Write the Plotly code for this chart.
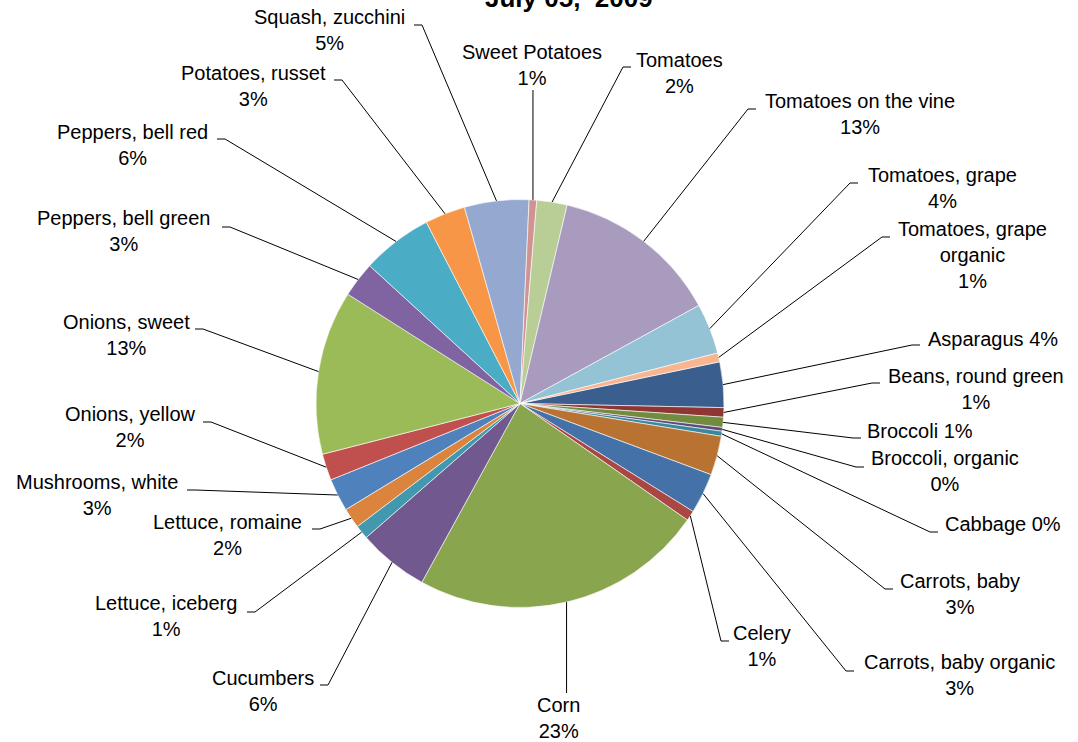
import math
import plotly.graph_objects as go

# ---------------- data ----------------
categories = [
    "Asparagus", "Beans, round green", "Broccoli", "Broccoli, organic", "Cabbage",
    "Carrots, baby", "Carrots, baby organic", "Celery", "Corn", "Cucumbers",
    "Lettuce, iceberg", "Lettuce, romaine", "Mushrooms, white", "Onions, yellow",
    "Onions, sweet", "Peppers, bell green", "Peppers, bell red", "Potatoes, russet",
    "Squash, zucchini", "Sweet Potatoes", "Tomatoes", "Tomatoes on the vine",
    "Tomatoes, grape", "Tomatoes, grape organic",
]
shares = [3.6, 0.75, 0.8, 0.3, 0.4, 3.1, 3.2, 0.8, 23.3, 5.6, 1.1, 1.6, 2.6, 2.1,
          13.0, 2.8, 5.6, 3.2, 5.1, 0.6, 2.4, 13.3, 4.0, 0.7]
title_text = "July 05,  2009"

# ---------------- styles / layout ----------------
colors = [
    "#3A5F8F", "#8E3634", "#718C3F", "#5E4A7C", "#378A9D",
    "#B87333", "#4472A8", "#AA4643", "#89A54E", "#71588F",
    "#4198AF", "#DB843D", "#4F81BD", "#C0504D", "#9BBB59",
    "#8064A2", "#4BACC6", "#F79646", "#95A9D0", "#D09392",
    "#B9CD96", "#A99BBD", "#93C3D4", "#F9B590",
]
W, H = 1078, 742
CX, CY, R = 520.0, 403.5, 204.0
ROTATION = 78.2
FONT = "Liberation Sans, Arial, sans-serif"
FS = 20

# label placement: (text centre x, first-line middle y, elbow x, elbow y, side, style)
label_pos = {
    "Asparagus": (993, 339, 912, 345, 1, "inline"),
    "Beans, round green": (976, 377, 872, 383, 1, "br"),
    "Broccoli": (920, 431, 853, 438, 1, "inline"),
    "Broccoli, organic": (945, 459, 856, 467, 1, "br"),
    "Cabbage": (1003, 524, 930, 532, 1, "inline"),
    "Carrots, baby": (960, 582, 885, 589, 1, "br"),
    "Carrots, baby organic": (959, 663, 846, 671, 1, "br"),
    "Celery": (762, 634, 721, 641, 1, "br"),
    "Corn": (558, 706, None, 693, 0, "br"),
    "Cucumbers": (263, 679, 328, 685, -1, "br"),
    "Lettuce, iceberg": (166, 604, 255, 612, -1, "br"),
    "Lettuce, romaine": (227, 523, 320, 529, -1, "br"),
    "Mushrooms, white": (97, 483, 195, 490, -1, "br"),
    "Onions, yellow": (130, 415, 211, 422, -1, "br"),
    "Onions, sweet": (126, 323, 203, 329, -1, "br"),
    "Peppers, bell green": (123, 219, 230, 227, -1, "br"),
    "Peppers, bell red": (132, 133, 225, 139, -1, "br"),
    "Potatoes, russet": (253, 74, 342, 80, -1, "br"),
    "Squash, zucchini": (329, 18, 422, 25, -1, "br"),
    "Sweet Potatoes": (532, 53, None, 90, 0, "br"),
    "Tomatoes": (679, 61, 623, 67, 1, "br"),
    "Tomatoes on the vine": (860, 102, 748, 109, 1, "br"),
    "Tomatoes, grape": (942, 176, 850, 183, 1, "br"),
    "Tomatoes, grape organic": (972, 231, 882, 237, 1, "wrap"),
}
wrap_names = {"Tomatoes, grape organic": "Tomatoes, grape<br>organic"}


def px(x):
    return x / W


def py(y):
    return 1 - y / H


total = sum(shares)
fig = go.Figure(go.Pie(
    labels=categories,
    values=shares,
    sort=False,
    direction="clockwise",
    rotation=ROTATION,
    marker=dict(colors=colors, line=dict(color="white", width=0.6)),
    textinfo="none",
    hoverinfo="label+percent",
    domain=dict(x=[px(CX - R), px(CX + R)], y=[py(CY + R), py(CY - R)]),
    showlegend=False,
))

annotations = []
shapes = []
cum = 0.0
line_h = FS * 1.22
for cat, v in zip(categories, shares):
    mid = math.radians(ROTATION + 360.0 * (cum + v / 2.0) / total)
    cum += v
    ax = CX + R * math.sin(mid)
    ay = CY - R * math.cos(mid)
    pct = f"{round(100 * v / total):.0f}%"
    tx, ty, ex, ey, side, style = label_pos[cat]
    name = wrap_names.get(cat, cat)
    if style == "inline":
        text = f"{name} {pct}"
    else:
        text = f"{name}<br>{pct}"
    nlines = text.count("<br>") + 1
    yc = ty + line_h * (nlines - 1) / 2.0
    annotations.append(dict(
        x=px(tx), y=py(yc), xref="paper", yref="paper", text=text,
        showarrow=False, xanchor="center", yanchor="middle", align="center",
        font=dict(family=FONT, size=FS, color="black"),
    ))
    if side == 0:
        ex = ax
        path = f"M {px(ax)} {py(ay)} L {px(ex)} {py(ey)}"
    else:
        path = (f"M {px(ax)} {py(ay)} L {px(ex)} {py(ey)} "
                f"L {px(ex + side * 8)} {py(ey)}")
    shapes.append(dict(type="path", xref="paper", yref="paper", path=path,
                       line=dict(color="black", width=1)))

annotations.append(dict(
    x=px(569), y=py(15), xref="paper", yref="paper", text=f"<b>{title_text}</b>",
    showarrow=False, xanchor="center", yanchor="bottom",
    font=dict(family=FONT, size=26, color="black"),
))

fig.update_layout(
    width=W, height=H,
    margin=dict(l=0, r=0, t=0, b=0),
    paper_bgcolor="white", plot_bgcolor="white",
    annotations=annotations, shapes=shapes,
)
fig.write_html("out.html", config={"displayModeBar": False},
               post_script="document.body.style.margin='0';")
